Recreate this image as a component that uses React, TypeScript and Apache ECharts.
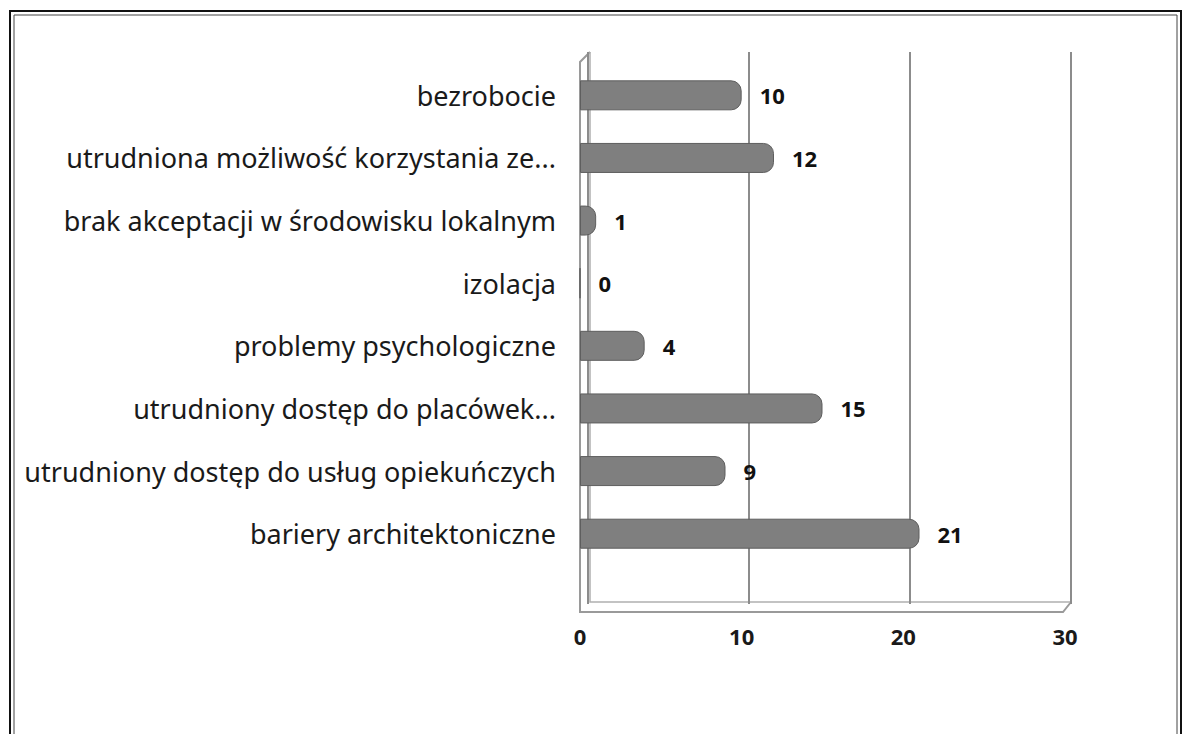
import React, { useEffect, useRef } from "react";
import * as echarts from "echarts";

const categories = [
  "bariery architektoniczne",
  "utrudniony dostęp do usług opiekuńczych",
  "utrudniony dostęp do placówek...",
  "problemy psychologiczne",
  "izolacja",
  "brak akceptacji w środowisku lokalnym",
  "utrudniona możliwość korzystania ze...",
  "bezrobocie",
];
const values = [21, 9, 15, 4, 0, 1, 12, 10];
const xTicks = [0, 10, 20, 30];

export default function App() {
  const ref = useRef<HTMLDivElement>(null);
  useEffect(() => {
    if (!ref.current) return;
    const chart = echarts.init(ref.current, null, { renderer: "svg" });
    const font = "Noto Sans";
    chart.setOption({
      animation: false,
      backgroundColor: "#ffffff",
      grid: [
        { left: 580, right: 121, top: 64, height: 501, containLabel: false },
        { left: 588, width: 483, top: 52, height: 552, containLabel: false },
      ],
      xAxis: [
        {
          type: "value",
          gridIndex: 0,
          min: xTicks[0],
          max: xTicks[xTicks.length - 1],
          interval: 10,
          axisLine: { show: false },
          axisTick: { show: false },
          splitLine: { show: false },
          axisLabel: {
            margin: 60,
            color: "#1a1a1a",
            fontSize: 22,
            fontFamily: font,
            fontWeight: "bold",
          },
        },
        {
          type: "value",
          gridIndex: 1,
          min: 0,
          max: 30,
          interval: 10,
          axisLine: { show: false },
          axisTick: { show: false },
          axisLabel: { show: false },
          splitLine: { show: true, lineStyle: { color: "#8c8c8c", width: 2 } },
        },
      ],
      yAxis: [
        {
          type: "category",
          gridIndex: 0,
          data: categories,
          axisLine: { show: false },
          axisTick: { show: false },
          axisLabel: {
            margin: 24,
            color: "#1a1a1a",
            fontSize: 27,
            fontFamily: font,
          },
        },
        {
          type: "value",
          gridIndex: 1,
          min: 0,
          max: 1,
          show: false,
        },
      ],
      series: [
        {
          type: "bar",
          xAxisIndex: 0,
          yAxisIndex: 0,
          data: values,
          barWidth: 30,
          itemStyle: {
            color: "#7f7f7f",
            borderColor: "#5e5e5e",
            borderWidth: 1,
            borderRadius: [0, 10, 10, 0],
          },
          label: {
            show: true,
            position: "right",
            distance: 18,
            color: "#111",
            fontSize: 22,
            fontWeight: "bold",
            fontFamily: font,
          },
          z: 5,
        },
      ],
      graphic: [
        {
          type: "rect",
          shape: { x: 10, y: 11, width: 1171, height: 760 },
          style: { fill: "none", stroke: "#111", lineWidth: 2 },
          silent: true,
        },
        {
          type: "rect",
          shape: { x: 14, y: 15, width: 1163, height: 760 },
          style: { fill: "none", stroke: "#444", lineWidth: 1 },
          silent: true,
        },
        {
          type: "polyline",
          shape: { points: [[590, 52], [580, 62], [580, 612], [1063, 612], [1071, 602], [1071, 52]] },
          style: { fill: "none", stroke: "#9a9a9a", lineWidth: 2 },
          silent: true,
        },
        {
          type: "polyline",
          shape: { points: [[590, 52], [590, 602], [1071, 602]] },
          style: { fill: "none", stroke: "#b0b0b0", lineWidth: 1.5 },
          silent: true,
        },
      ],
    });
    return () => chart.dispose();
  }, []);
  return (
    <div
      ref={ref}
      style={{ position: "fixed", left: 0, top: 0, width: 1186, height: 734 }}
    />
  );
}
